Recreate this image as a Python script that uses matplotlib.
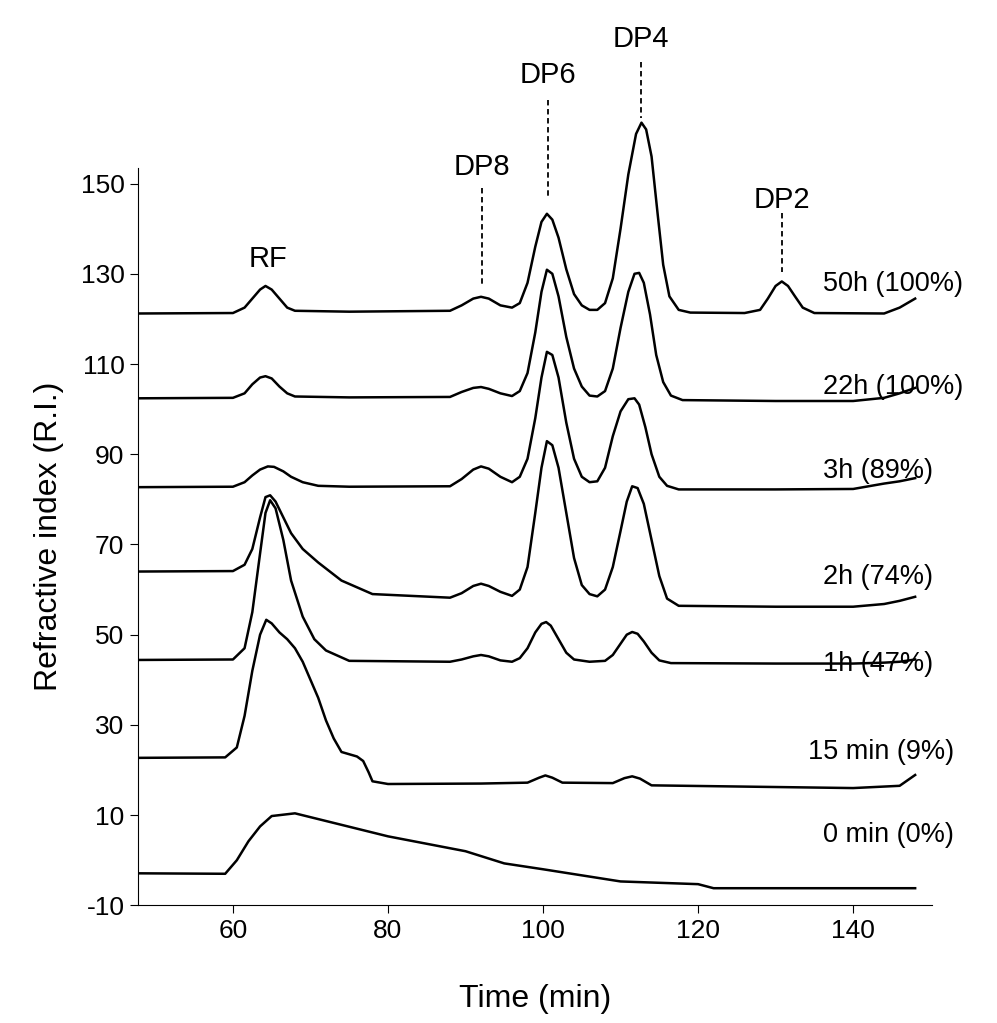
import matplotlib
matplotlib.use("Agg")
import matplotlib.pyplot as plt

plt.rcParams["font.family"] = ["Liberation Sans", "DejaVu Sans"]
plt.rcParams["axes.unicode_minus"] = False

t_50h = [48, 60, 61.5, 62.5, 63.5, 64.2, 65, 66, 67, 68, 75, 88, 89.5, 91, 92, 93, 94.5, 96, 97, 98, 99,
         99.8, 100.5, 101.2, 102, 103, 104, 105, 106, 107, 108, 109, 110, 111, 112, 112.7, 113.3, 114,
         114.8, 115.5, 116.3, 117.5, 119, 126, 128, 129, 130, 130.8, 131.6, 132.5, 133.5, 135, 144, 146, 148]
v_50h = [121.2, 121.3, 122.5, 124.5, 126.5, 127.3, 126.5, 124.5, 122.5, 121.8, 121.6, 121.8, 123, 124.5,
         124.9, 124.5, 123, 122.5, 123.5, 128, 136, 141.5, 143.3, 142, 138, 131, 125.5, 123, 122, 122,
         123.5, 129, 140, 152, 161, 163.5, 162, 156, 143, 132, 125, 122, 121.4, 121.3, 122, 124.5, 127.3,
         128.3, 127.3, 125, 122.5, 121.3, 121.2, 122.5, 124.5]

t_22h = [48, 60, 61.5, 62.5, 63.5, 64.2, 65, 66, 67, 68, 75, 88, 89.5, 91, 92, 93, 94.5, 96, 97, 98,
         99, 99.8, 100.5, 101.2, 102, 103, 104, 105, 106, 107, 108, 109, 110, 111, 111.8, 112.4, 113,
         113.8, 114.6, 115.5, 116.5, 118, 130, 140, 144, 146, 148]
v_22h = [102.4, 102.5, 103.5, 105.5, 107, 107.3, 106.8, 105, 103.5, 102.8, 102.6, 102.7, 103.8, 104.7,
         104.9, 104.5, 103.5, 102.9, 104, 108, 117, 126, 130.9, 130, 125, 116, 109, 105, 103, 102.8,
         104, 109, 118, 126, 130, 130.2, 128, 121, 112, 106, 103, 102, 101.8, 101.8, 102.5, 103.5, 104.7]

t_3h = [48, 60, 61.5, 62.5, 63.5, 64.5, 65.3, 66.5, 67.5, 69, 71, 75, 88, 89.5, 91, 92, 93, 94.5, 96,
        97, 98, 99, 99.8, 100.5, 101.2, 102, 103, 104, 105, 106, 107, 108, 109, 110, 111, 111.8, 112.4,
        113.2, 114, 115, 116, 117.5, 130, 140, 144, 146, 148]
v_3h = [82.7, 82.8, 83.8, 85.3, 86.6, 87.3, 87.2, 86.2, 85, 83.8, 83, 82.8, 82.9, 84.5, 86.6, 87.3,
        86.8, 85, 83.8, 85, 89, 98, 107, 112.7, 112, 107, 97, 89, 85, 83.8, 84, 87, 94, 99.5, 102.2,
        102.4, 101, 96, 90, 85, 83, 82.2, 82.2, 82.3, 83.5, 84, 84.7]

t_2h = [48, 60, 61.5, 62.5, 63.5, 64.2, 64.8, 65.5, 66.5, 67.5, 69, 71, 74, 78, 88, 89.5, 91, 92, 93,
        94.5, 96, 97, 98, 99, 99.8, 100.5, 101.2, 102, 103, 104, 105, 106, 107, 108, 109, 110, 110.8,
        111.5, 112.2, 113, 114, 115, 116, 117.5, 130, 140, 144, 146, 148]
v_2h = [64, 64.1, 65.5, 69, 76, 80.5, 80.9, 79.5, 76, 72.5, 69, 66, 62, 59, 58.2, 59.2, 60.8, 61.3, 60.8,
        59.5, 58.6, 60, 65, 77, 87, 92.9, 92, 87, 77, 67, 61, 59, 58.5, 60, 65, 73, 79.5, 82.9, 82.5, 79,
        71, 63, 58, 56.4, 56.2, 56.2, 56.8, 57.5, 58.4]

t_1h = [48, 60, 61.5, 62.5, 63.5, 64.2, 64.8, 65.5, 66.5, 67.5, 69, 70.5, 72, 75, 88, 89.5, 91, 92,
        93, 94.5, 96, 97, 98, 99, 99.8, 100.4, 101, 102, 103, 104, 106, 108, 109, 110, 110.8, 111.5,
        112.2, 113, 114, 115, 116.5, 130, 140, 144, 146, 148]
v_1h = [44.4, 44.5, 47, 55, 68, 77, 79.8, 78, 71, 62, 54, 49, 46.5, 44.2, 44, 44.5, 45.2, 45.5, 45.2,
        44.3, 44, 44.8, 47, 50.5, 52.4, 52.8, 52, 49, 46, 44.5, 44, 44.2, 45.5, 48, 50, 50.6, 50.2, 48.5,
        46, 44.3, 43.7, 43.6, 43.6, 43.8, 44, 44.5]

t_15m = [48, 59, 60.5, 61.5, 62.5, 63.5, 64.3, 65, 66, 67, 68, 69, 70, 71, 72, 73, 74, 76, 76.8, 77.5,
         78, 80, 92, 98, 99.5, 100.3, 101.2, 102.5, 109, 110.5, 111.5, 112.5, 114, 140, 146, 148]
v_15m = [22.7, 22.8, 25, 32, 42, 50, 53.3, 52.5, 50.5, 49, 47, 44, 40, 36, 31, 27, 24, 23, 22, 19.5,
         17.5, 16.9, 17, 17.2, 18.3, 18.8, 18.3, 17.2, 17.1, 18.2, 18.6, 18.1, 16.6, 16, 16.5, 18.9]

t_0m = [48, 59, 60.5, 62, 63.5, 65, 68, 72, 80, 90, 95, 100, 110, 120, 122, 148]
v_0m = [-2.9, -3, 0, 4.2, 7.5, 9.8, 10.4, 8.7, 5.3, 2, -0.7, -2, -4.7, -5.3, -6.2, -6.2]

traces = [(t_50h, v_50h), (t_22h, v_22h), (t_3h, v_3h), (t_2h, v_2h),
          (t_1h, v_1h), (t_15m, v_15m), (t_0m, v_0m)]

trace_labels = ["50h (100%)", "22h (100%)", "3h (89%)", "2h (74%)", "1h (47%)", "15 min (9%)", "0 min (0%)"]
label_x = [136.1, 136.1, 136.1, 136.1, 136.1, 134.2, 136.1]
label_y = [127.8, 105, 86.2, 62.7, 43.6, 24, 5.5]

peak_names = ["DP8", "DP6", "DP4", "DP2"]
peak_t = [92.1, 100.6, 112.6, 130.8]
peak_text_y = [153.6, 174, 182, 146.4]
peak_line = [(149, 127), (168.5, 147), (177, 164.5), (143.5, 130.5)]

fig = plt.figure(figsize=(9.97, 10.23), dpi=100)
ax = fig.add_axes([0.138, 0.115, 0.797, 0.721])

for t, v in traces:
    ax.plot(t, v, color="black", lw=1.8, clip_on=False)

for lab, x, y in zip(trace_labels, label_x, label_y):
    ax.text(x, y, lab, fontsize=19.5, ha="left", va="center")

ax.text(64.5, 133.3, "RF", fontsize=21, ha="center", va="center")
for name, x, ty, (y0, y1) in zip(peak_names, peak_t, peak_text_y, peak_line):
    ax.text(x, ty, name, fontsize=21, ha="center", va="center", clip_on=False)
    ax.plot([x, x], [y0, y1], color="black", lw=1.3, ls=(0, (3, 2)), clip_on=False)

ax.set_xlim(47.7, 150.2)
ax.set_ylim(-10, 153.5)
ax.set_xticks([60, 80, 100, 120, 140])
ax.set_yticks(range(-10, 151, 20))
ax.tick_params(labelsize=19, direction="out", length=6)
for s in ("top", "right"):
    ax.spines[s].set_visible(False)
ax.set_xlabel("Time (min)", fontsize=23, labelpad=30)
ax.set_ylabel("Refractive index (R.I.)", fontsize=23, labelpad=12)

fig.savefig("out.png", dpi=100)
